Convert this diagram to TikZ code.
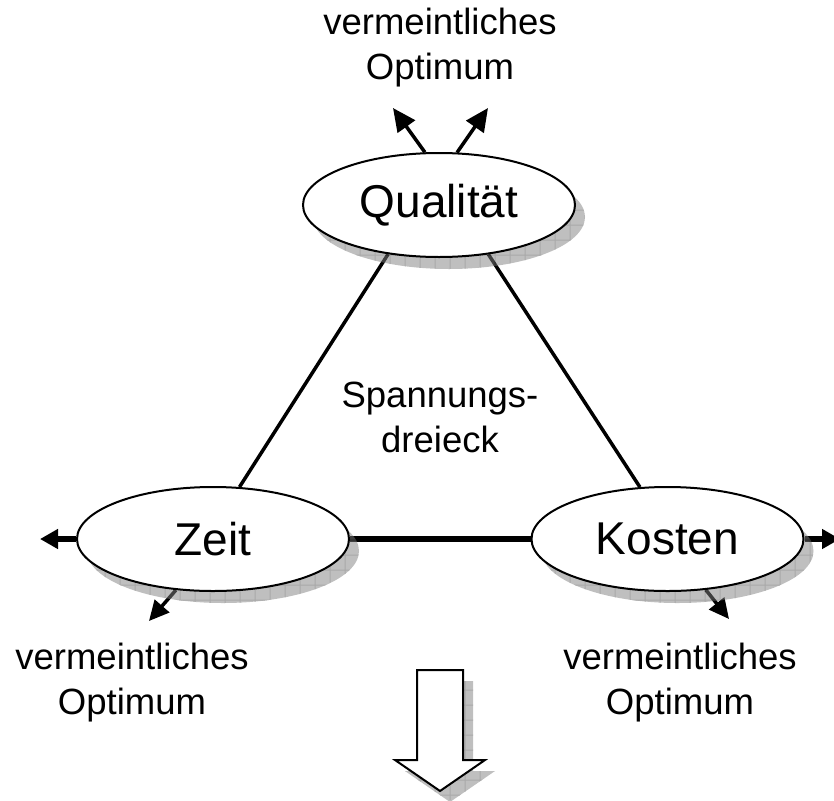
\documentclass[tikz,border=0pt]{standalone}
\usepackage{fontspec}
\setmainfont{Liberation Sans}
\usetikzlibrary{arrows.meta,shapes.geometric}

% hatched drop shadow: half-transparent grey with a fine grid
\newcommand{\hatchshade}[1]{%
  \begin{scope}[transparency group, opacity=0.5]
    \fill[gray] #1;
    \begin{scope}
      \clip #1;
      \foreach \g in {0,15,...,840} {
        \draw[black!68, line width=1pt] (\g,0) -- (\g,800);
        \draw[black!68, line width=1pt] (0,\g) -- (834,\g);
      }
    \end{scope}
  \end{scope}}

\begin{document}
\begin{tikzpicture}[x=1pt,y=-1pt,
  oval/.style={ellipse, draw=black, line width=2pt, fill=white,
    minimum width=272pt, minimum height=104pt, inner sep=0pt,
    font=\fontsize{46}{55}\selectfont},
  caption/.style={align=center, font=\fontsize{36.5}{45}\selectfont},
  link/.style={line width=3.5pt},
  bar/.style={line width=6pt},
  outarrow/.style={line width=3.5pt, -{Triangle[length=23pt,width=21pt]}},
  sidearrow/.style={line width=6pt, -{Triangle[length=18pt,width=19pt]}},
  lowarrow/.style={line width=3.5pt, -{Triangle[length=20pt,width=19pt]}},
]
\useasboundingbox (0,0) rectangle (834,800);
\clip (0,0) rectangle (834,800);

% node positions (invisible placeholders for anchors)
\path (439,205) node[oval, draw=none, fill=none] (Q) {}
      (213,539) node[oval, draw=none, fill=none] (Z) {}
      (667.5,539) node[oval, draw=none, fill=none] (K) {};

% free ends of the outward arrows
\coordinate (qa) at (393,108);
\coordinate (qb) at (488,108);
\coordinate (zl) at (40,539);
\coordinate (kr) at (840,539);
\coordinate (zd) at (149,621);
\coordinate (kd) at (729,619);

% triangle edges and outward arrows
\draw[link] (Q.224) -- (Z.63);
\draw[link] (Q.315) -- (K.118);
\draw[bar] (Z.east) -- (K.west);
\draw[outarrow] (Q.105) -- (qa);
\draw[outarrow] (Q.71) -- (qb);
\draw[sidearrow] (Z.west) -- (zl);
\draw[sidearrow] (K.east) -- (kr);
\draw[lowarrow] (Z.234) -- (zd);
\draw[lowarrow] (K.307) -- (kd);

% shadows of the three ovals
\hatchshade{(449,217) ellipse [x radius=136, y radius=52]}
\hatchshade{(223,551) ellipse [x radius=136, y radius=52]}
\hatchshade{(677.5,551) ellipse [x radius=136, y radius=52]}

% the ovals
\node[oval] (Qv) at (Q) {Qualität};
\node[oval] (Zv) at (Z) {Zeit};
\node[oval] (Kv) at (K) {Kosten};

% captions
\node[caption] (tq) at (440,48) {vermeintliches\\Optimum};
\node[caption] (tz) at (132,683) {vermeintliches\\Optimum};
\node[caption] (tk) at (680,683) {vermeintliches\\Optimum};
\node[caption] (tm) at (440,417) {Spannungs-\\dreieck};

% block arrow pointing down, with its shadow
\hatchshade{(427,681) -- (473,681) -- (473,771) -- (495,771) -- (450,802) -- (405,771) -- (427,771) -- cycle}
\draw[line width=2pt, fill=white, line join=miter]
  (417,670) -- (463,670) -- (463,760) -- (485,760) -- (440,791) -- (395,760) -- (417,760) -- cycle;
\end{tikzpicture}
\end{document}
